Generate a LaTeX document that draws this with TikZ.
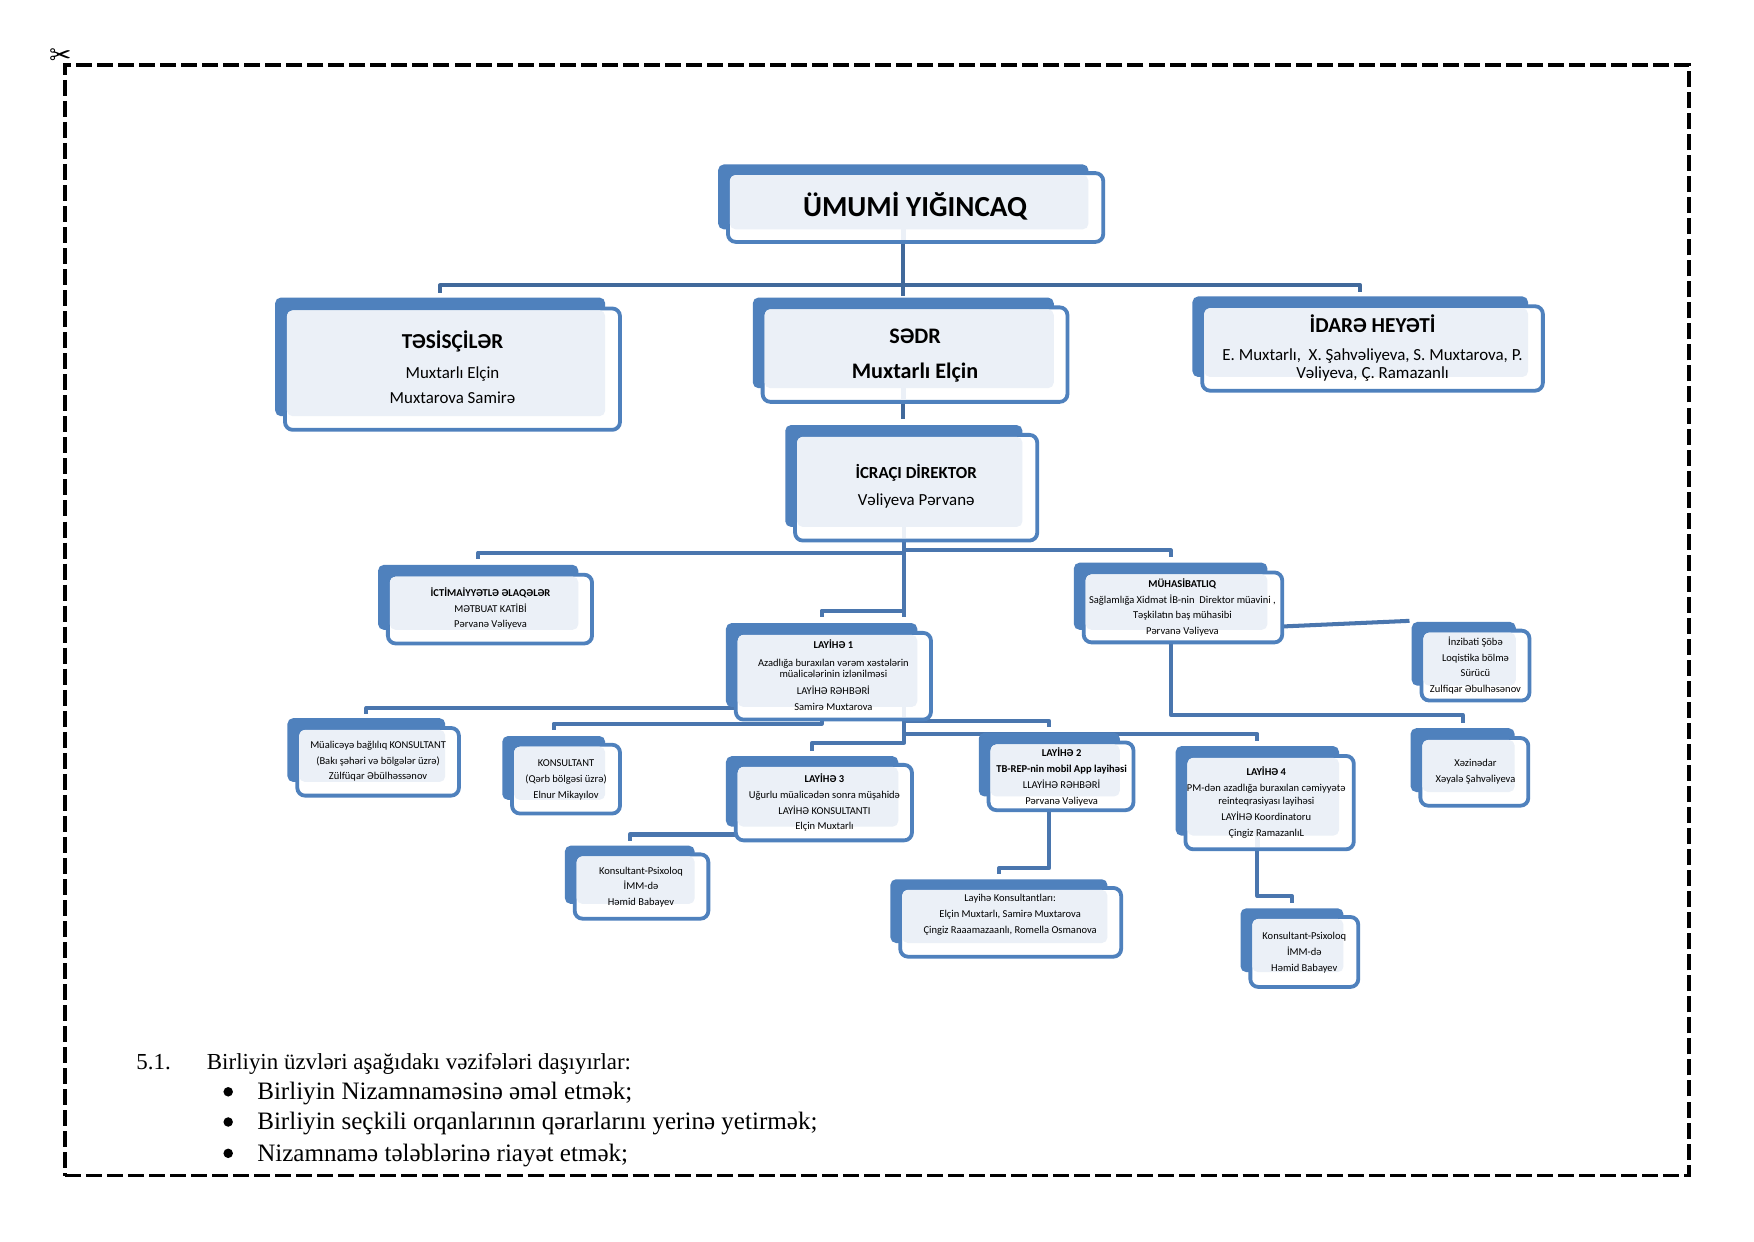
\documentclass[tikz,border=0pt]{standalone}
\usepackage{fontspec}
\setmainfont{Carlito}
\newfontfamily\bodyfont{Liberation Serif}
\newfontfamily\symbolfont{DejaVu Sans}
\usetikzlibrary{calc,backgrounds}
\definecolor{boxblue}{HTML}{4F81BD}
\definecolor{boxpale}{HTML}{EBF0F7}
\definecolor{connA}{HTML}{41699B}
\definecolor{connB}{HTML}{4A76AE}
\tikzset{
  backbox/.style={rectangle,fill=boxblue,rounded corners=5pt,inner sep=0,outer sep=0},
  framebox/.style={rectangle,draw=boxblue,line width=3.4pt,fill=white,rounded corners=7pt,inner sep=0,outer sep=0},
  palebox/.style={rectangle,fill=boxpale,rounded corners=5pt,inner sep=0,outer sep=0},
  conn/.style={draw=connB,line width=3.6pt,line join=round},
  connt/.style={draw=connA,line width=3.6pt,line join=round},
  lbl/.style={align=center,inner sep=0,outer sep=0,text=black},
  fsmall/.style={font=\fontsize{9.4}{14.2}\selectfont},
  bodyline/.style={inner sep=0,outer sep=0,anchor=base west,text=black,font=\bodyfont\fontsize{22.4}{26}\selectfont},
  bulletdot/.style={circle,fill=black,inner sep=0,outer sep=0,minimum size=8.5pt}
}
\def\orgbox#1:#2/#3/#4/#5;#6/#7/#8/#9;{%
  \node[backbox,minimum width={(#4-#2)*1pt},minimum height={(#5-#3)*1pt}] (#1) at ({(#2+#4)/2},{(#3+#5)/2}) {};
  \node[framebox,minimum width={(#8-#6-1.5)*1pt},minimum height={(#9-#7-1.5)*1pt}] (#1-frame) at ({(#6+#8)/2},{(#7+#9)/2}) {};
  \node[palebox,minimum width={(#4-#6-2.5)*1pt},minimum height={(#5-#7-2.5)*1pt}] (#1-pale) at ({(#6+2.5+#4)/2},{(#7+2.5+#5)/2}) {};
}
\def\palestub#1#2{\fill[boxpale] ($(#2 |- #1.south)+(-2,0)$) rectangle ($(#2 |- #1-frame.south)+(2,-2)$);}
\begin{document}
\begin{tikzpicture}[x=1pt,y=-1pt]
\useasboundingbox (0,0) rectangle (1568,1109.4);
% frame
\node[inner sep=0,outer sep=0,minimum width=1452pt,minimum height=993pt,draw=black,line width=3pt,dash pattern=on 14.3pt off 4.5pt] (cutframe) at (784,554.5) {};
\node[inner sep=0,font=\symbolfont\fontsize{24}{24}\selectfont] (scissors) at (54,51) {✂};

% bus levels
\coordinate (busA) at (0,255);
\coordinate (busB) at (0,494);
\coordinate (busC) at (0,492);
\coordinate (busD) at (0,546);
\coordinate (busE) at (0,633);
\coordinate (busF) at (0,647);
\coordinate (busG) at (0,644.5);
\coordinate (busH) at (0,664);
\coordinate (busI) at (0,656);
\coordinate (busJ) at (0,746);
\coordinate (busK) at (0,776);
\coordinate (busL) at (0,801);
\coordinate (busM) at (0,639);
\coordinate (inzTip) at (1260,555);
\coordinate (muhTap) at (1147,560);

% boxes
\orgbox top:642/147/973/205;650/154/987/217;
\orgbox tesis:246/266/541/372;254/275/555/385;
\orgbox sedr:673/266/942/347;681/274/955/360;
\orgbox idare:1066/265/1366/337;1074/273/1380/350;
\orgbox icra:702/380/914/471;710/388/928/484;
\orgbox ictimai:338/505/517/563;346/513/530/576;
\orgbox lay1:649/557/820/632;657/565/833/644;
\orgbox muh:960/503/1133/563;968/511/1147/575;
\orgbox inz:1262/556/1355/613;1270/563/1368/627;
\orgbox xez:1261/651/1354/708;1269/659/1367/721;
\orgbox mual:257/642/398/699;265/650/411/712;
\orgbox kons:449/658/541/715;457/665/555/728;
\orgbox lay3:649/676/803/739;657/683/816/752;
\orgbox lay2:875/655/1001/712;883/663/1014/725;
\orgbox lay4:1051/667/1197/747;1059/675/1211/760;
\orgbox psixa:505/756/621/808;513/763/634/822;
\orgbox layk:796/786/990/843;804/793/1003/856;
\orgbox psixb:1109/812/1201/869;1117/819/1215/883;

% connectors, beneath the boxes
\begin{scope}[on background layer]
\fill[white] (0,0) rectangle (1568,1109.4);
\draw[connt,shorten >=4pt] (top.south) |- (busA -| tesis.north) -- (tesis.north);
\draw[connt,shorten >=4pt] (top.south) |- (busA -| idare.north) -- (idare.north);
\draw[connt,shorten >=1pt] (top.south) -- (sedr.north);
\draw[connt,shorten >=5pt] (sedr.south) -- (sedr.south |- icra.north);
\draw[conn,shorten >=5pt] (icra.south) |- (busB -| ictimai.north) -- (ictimai.north);
\draw[conn,shorten >=5pt] (icra.south) |- (busC -| muh.north) -- (muh.north);
\draw[conn,shorten >=5pt] (icra.south) |- (busD -| lay1.north) -- (lay1.north);
\draw[conn,shorten >=5pt] (icra.south) -- (icra.south |- lay1.north);
\draw[conn,shorten >=4pt] (lay1.south) |- (busE -| mual.north) -- (mual.north);
\draw[conn,shorten >=5pt] (lay1.south) |- (busF -| kons.north) -- (kons.north);
\draw[conn,shorten >=5pt] (icra.south |- lay1.south) |- (busG -| lay2.north) -- (lay2.north);
\draw[conn,shorten >=5pt] (icra.south |- lay1.south) |- (busH -| lay3.north) -- (lay3.north);
\draw[conn,shorten >=5pt] (icra.south |- lay1.south) |- (busI -| lay4.north) -- (lay4.north);
\draw[conn,shorten >=4pt] (lay3.south) |- (busJ -| psixa.north) -- (psixa.north);
\draw[conn,shorten >=5pt] (lay2.south) |- (busK -| layk.north) -- (layk.north);
\draw[conn,shorten >=5pt] (lay4.south) |- (busL -| psixb.north) -- (psixb.north);
\draw[conn,shorten >=5pt] (muh.south) |- (busM -| xez.north) -- (xez.north);
\draw[conn] (muhTap) -- (inzTip);
\end{scope}

% pale ends of the connectors inside the frames
\palestub{top}{top.south}
\palestub{sedr}{sedr.south}
\palestub{icra}{icra.south}
\palestub{lay1}{icra.south}
\palestub{lay4}{lay4.south}

% labels
\node[lbl,font=\fontsize{26}{28}\selectfont\bfseries] (t-top) at (818,184) {ÜMUMİ YIĞINCAQ};
\node[lbl,font=\fontsize{15.1}{22.5}\selectfont] (t-tesis) at (404.5,328.5) {{\fontsize{19}{22.5}\selectfont\bfseries TƏSİSÇİLƏR}\\[4pt]Muxtarlı Elçin\\Muxtarova Samirə};
\node[lbl,font=\fontsize{19.8}{31}\selectfont\bfseries] (t-sedr) at (818,318) {SƏDR\\Muxtarlı Elçin};
\node[lbl,font=\fontsize{15.15}{16}\selectfont] (t-idare) at (1227,311) {{\fontsize{19}{20}\selectfont\bfseries İDARƏ HEYƏTİ}\\[9pt]E. Muxtarlı,\ \ X. Şahvəliyeva, S. Muxtarova, P.\\Vəliyeva, Ç. Ramazanlı};
\node[lbl,font=\fontsize{15.1}{24}\selectfont] (t-icra) at (819,435) {\textbf{İCRAÇI DİREKTOR}\\Vəliyeva Pərvanə};
\node[lbl,fsmall] (t-ictimai) at (438.5,544) {\textbf{İCTİMAİYYƏTLƏ ƏLAQƏLƏR}\\MƏTBUAT KATİBİ\\Pərvanə Vəliyeva};
\node[lbl,font=\fontsize{9.4}{10.5}\selectfont] (t-lay1) at (745,603.5) {\textbf{LAYİHƏ 1}\\[5pt]Azadlığa buraxılan vərəm xəstələrin\\müalicələrinin izlənilməsi\\[4pt]LAYİHƏ RƏHBƏRİ\\[4pt]Samirə Muxtarova};
\node[lbl,fsmall] (t-muh) at (1057,543) {\textbf{MÜHASİBATLIQ}\\Sağlamlığa Xidmət İB-nin\ \ Direktor müavini ,\\Təşkilatın baş mühasibi\\Pərvanə Vəliyeva};
\node[lbl,fsmall] (t-inz) at (1319,595) {İnzibati Şöbə\\Loqistika bölmə\\Sürücü\\Zulfiqar Əbulhəsənov};
\node[lbl,fsmall] (t-xez) at (1319,690) {Xəzinədar\\Xəyalə Şahvəliyeva};
\node[lbl,fsmall] (t-mual) at (338,680.5) {Müalicəyə bağlılıq KONSULTANT\\(Bakı şəhəri və bölgələr üzrə)\\Zülfüqar Əbülhəssənov};
\node[lbl,fsmall] (t-kons) at (506,697.5) {KONSULTANT\\(Qərb bölgəsi üzrə)\\Elnur Mikayılov};
\node[lbl,fsmall] (t-lay3) at (737,717.5) {\textbf{LAYİHƏ 3}\\Uğurlu müalicədən sonra müşahidə\\LAYİHƏ KONSULTANTI\\Elçin Muxtarlı};
\node[lbl,fsmall] (t-lay2) at (949,694.5) {\textbf{LAYİHƏ 2}\\\textbf{TB-REP-nin mobil App layihəsi}\\LLAYİHƏ RƏHBƏRİ\\Pərvanə Vəliyeva};
\node[lbl,font=\fontsize{9.4}{11.5}\selectfont] (t-lay4) at (1132,717.5) {\textbf{LAYİHƏ 4}\\[3pt]PM-dən azadlığa buraxılan cəmiyyətə\\reinteqrasiyası layihəsi\\[3pt]LAYİHƏ Koordinatoru\\[3pt]Çingiz RamazanlıL};
\node[lbl,fsmall] (t-psixa) at (573,793) {Konsultant-Psixoloq\\İMM-də\\Həmid Babayev};
\node[lbl,fsmall] (t-layk) at (903,818) {Layihə Konsultantları:\\Elçin Muxtarlı, Samirə Muxtarova\\Çingiz Raaamazaanlı,\ Romella Osmanova};
\node[lbl,fsmall] (t-psixb) at (1166,851.5) {Konsultant-Psixoloq\\İMM-də\\Həmid Babayev};

% body text
\node[bodyline,font=\bodyfont\fontsize{20.5}{24}\selectfont] (n51) at (122,956) {5.1.};
\node[bodyline,font=\bodyfont\fontsize{20.5}{24}\selectfont] (l0) at (185,956) {Birliyin üzvləri aşağıdakı vəzifələri daşıyırlar:};
\node[bulletdot] (b1) at (204,976) {};
\node[bodyline] (l1) at (230,983) {Birliyin Nizamnaməsinə əməl etmək;};
\node[bulletdot] (b2) at (204,1003) {};
\node[bodyline] (l2) at (230,1010) {Birliyin seçkili orqanlarının qərarlarını yerinə yetirmək;};
\node[bulletdot] (b3) at (204,1031) {};
\node[bodyline] (l3) at (230,1038) {Nizamnamə tələblərinə riayət etmək;};
\end{tikzpicture}
\end{document}
